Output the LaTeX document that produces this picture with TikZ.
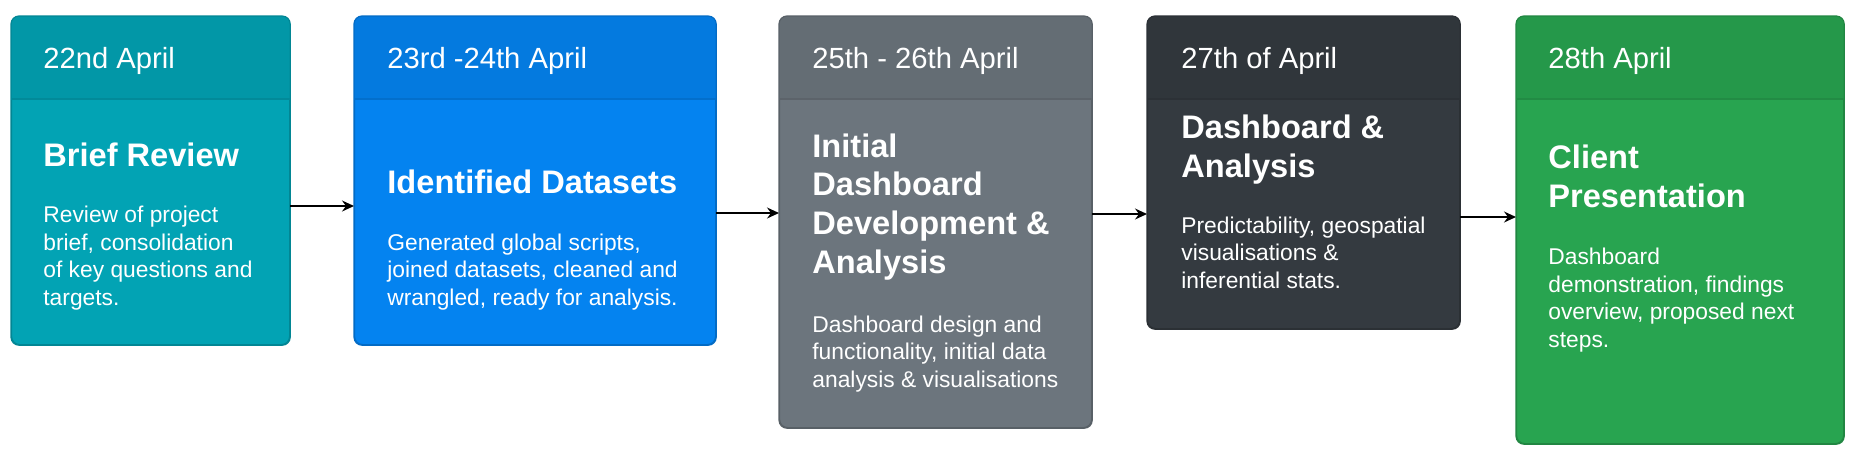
\documentclass[tikz,border=0pt]{standalone}
\usepackage{fontspec}
\setmainfont{Liberation Sans}
\usepackage{tikz}
\usetikzlibrary{arrows.meta,positioning,calc}
\definecolor{infoC}{HTML}{02A3B4}
\definecolor{primC}{HTML}{0483F0}
\definecolor{secC}{HTML}{6C757D}
\definecolor{darkC}{HTML}{343A40}
\definecolor{succC}{HTML}{28A450}

\begin{document}
\begin{tikzpicture}[
			x = 0.5pt, y = -0.5pt,
			card/.style = {rectangle, rounded corners = 4pt, fill = #1, draw = #1!82!black,
				line width = 0.6pt, inner sep = 0pt, anchor = north west},
			datetxt/.style = {anchor = base west, inner sep = 0pt, text = white,
				font = \fontsize{14.6}{17.5}\selectfont},
			titletxt/.style = {anchor = base west, inner sep = 0pt, text = white, align = left,
				font = \bfseries\fontsize{16.3}{19.3}\selectfont},
			desctxt/.style = {anchor = base west, inner sep = 0pt, text = white, align = left,
				font = \fontsize{11.4}{13.7}\selectfont},
			flow/.style = {-{Stealth[length = 6pt, width = 5.5pt, inset = 2pt]}, line width = 0.7pt}
			]

			\useasboundingbox (0,0) rectangle (1858,456);

			\def\sep{99}

			% cards
			\node[card = infoC, minimum width = 139pt, minimum height = 164pt] (b1) at (11,16) {};
			\node[card = primC, minimum width = 180.5pt, minimum height = 164pt] (b2) at (354,16) {};
			\node[card = secC, minimum width = 156pt, minimum height = 205.5pt] (b3) at (779,16) {};
			\node[card = darkC, minimum width = 156pt, minimum height = 156pt] (b4) at (1147,16) {};
			\node[card = succC, minimum width = 163.5pt, minimum height = 213.5pt] (b5) at (1516,16) {};

			% darker header strip
			\foreach \b/\c in {b1/infoC, b2/primC, b3/secC, b4/darkC, b5/succC}{
				\begin{scope}
					\clip[rounded corners = 4pt] (\b.south west) rectangle (\b.north east);
					\fill[\c!93!black] (\b.north west) rectangle (\b.east |- 0,\sep);
				\end{scope}
				\draw[\c!82!black, line width = 0.6pt, rounded corners = 4pt] (\b.south west) rectangle (\b.north east);
				\draw[\c!85!black, line width = 0.8pt] (\b.west |- 0,\sep) -- (\b.east |- 0,\sep);
			}

			% texts (base = baseline of the last line)
			\node[datetxt] (d1) at (43,68) {22nd April};
			\node[titletxt] (t1) at (43,166) {Brief Review};
			\node[desctxt] (x1) at (43,305) {Review of project\\brief, consolidation\\of key questions and\\targets.};

			\node[datetxt] (d2) at (387,68) {23rd -24th April};
			\node[titletxt] (t2) at (387,193) {Identified Datasets};
			\node[desctxt] (x2) at (387,305) {Generated global scripts,\\joined datasets, cleaned and\\wrangled, ready for analysis.};

			\node[datetxt] (d3) at (812,68) {25th - 26th April};
			\node[titletxt] (t3) at (812,273) {Initial\\Dashboard\\Development \&\\Analysis};
			\node[desctxt] (x3) at (812,387) {Dashboard design and\\functionality, initial data\\analysis \& visualisations};

			\node[datetxt] (d4) at (1181,68) {27th of April};
			\node[titletxt] (t4) at (1181,177) {Dashboard \&\\Analysis};
			\node[desctxt] (x4) at (1181,288) {Predictability, geospatial\\visualisations \&\\inferential stats.};

			\node[datetxt] (d5) at (1548,68) {28th April};
			\node[titletxt] (t5) at (1548,207) {Client\\Presentation};
			\node[desctxt] (x5) at (1548,347) {Dashboard\\demonstration, findings\\overview, proposed next\\steps.};

			% connectors
			\coordinate (a1) at (0,206);
			\coordinate (a2) at (0,213);
			\coordinate (a3) at (0,214);
			\coordinate (a4) at (0,217);
			\draw[flow] (b1.east |- a1) -- (b2.west |- a1);
			\draw[flow] (b2.east |- a2) -- (b3.west |- a2);
			\draw[flow] (b3.east |- a3) -- (b4.west |- a3);
			\draw[flow] (b4.east |- a4) -- (b5.west |- a4);

		\end{tikzpicture}
\end{document}
